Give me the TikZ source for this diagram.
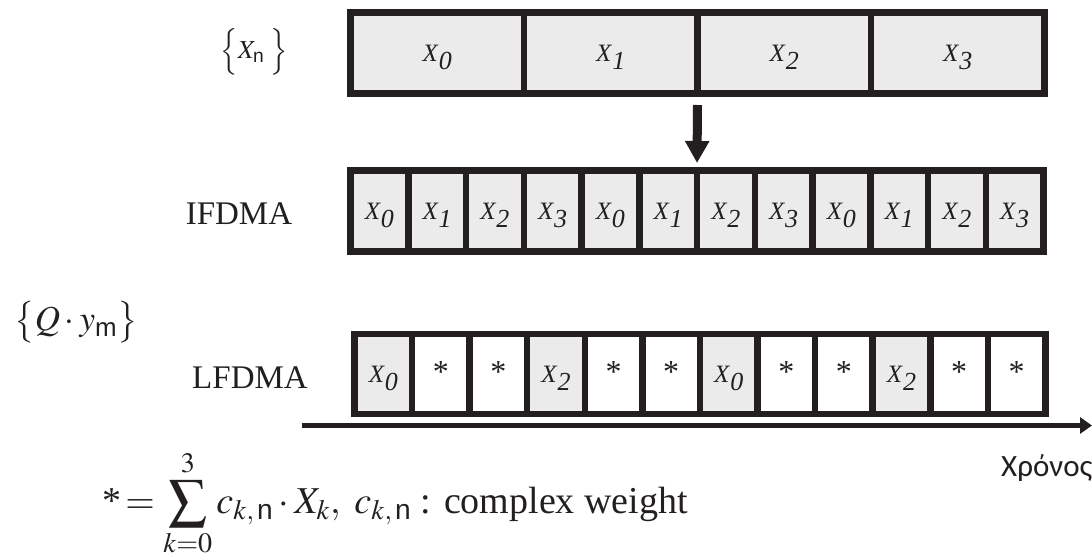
\documentclass[tikz,border=0pt]{standalone}
\usepackage{mathptmx}
\usepackage{amsmath}
\usepackage[no-math]{fontspec}
\setmainfont{Liberation Serif}
\newfontfamily\arialf{Liberation Sans}
\newfontfamily\greekf{Carlito}
\usetikzlibrary{arrows.meta}
\definecolor{dark}{HTML}{231F20}
\definecolor{cellgray}{HTML}{EBEBEB}
\newcommand{\xsub}[1]{\textit{X}\raisebox{-8pt}{\fontsize{26}{28}\selectfont\textit{#1}}}
\tikzset{
  cellbase/.style={draw=dark, line width=6.5pt, inner sep=0pt, outer sep=0pt,
    text height=16pt, text depth=0pt, font=\fontsize{25}{28}\selectfont, text=dark},
  topcell/.style={cellbase, fill=cellgray, minimum width=173.5pt, minimum height=81pt},
  icell/.style={cellbase, fill=cellgray, minimum width=57.75pt, minimum height=81pt},
  lgcell/.style={cellbase, fill=cellgray, minimum width=57.6pt, minimum height=80pt},
  lwcell/.style={cellbase, fill=white, minimum width=57.6pt, minimum height=80pt, font=\fontsize{32}{34}\selectfont},
  label/.style={text=dark, inner sep=0pt},
  bigarrow/.style={draw=dark, line width=9pt, -{Triangle[width=23pt,length=22pt]}},
  axisline/.style={draw=dark, line width=5pt, -{Triangle[width=16pt,length=12pt]}}
}
\begin{document}
\begin{tikzpicture}[x=1pt,y=-1pt]
\useasboundingbox (0,0) rectangle (1092,557);
% top row
\foreach \i in {0,1,2,3}{
  \node[topcell] (t\i) at ({350.5+173.5*(\i+0.5)},53) {\xsub{\i}};
}
% IFDMA row
\foreach \i in {0,...,11}{
  \pgfmathtruncatemacro{\v}{mod(\i,4)}
  \node[icell] (i\i) at ({350.5+57.75*(\i+0.5)},211) {\xsub{\v}};
}
% LFDMA row
\foreach \i/\st/\tx in {0/lgcell/{\xsub{0}},1/lwcell/*,2/lwcell/*,3/lgcell/{\xsub{2}},4/lwcell/*,5/lwcell/*,
                        6/lgcell/{\xsub{0}},7/lwcell/*,8/lwcell/*,9/lgcell/{\xsub{2}},10/lwcell/*,11/lwcell/*}{
  \node[\st] (l\i) at ({354.5+57.58*(\i+0.5)},374) {\tx};
}
% arrow between rows
\draw[bigarrow] ([yshift=-11.5pt]t1.south east) -- ([yshift=7.5pt]i5.north east);
% time axis
\coordinate (axs) at (302,425.5);
\coordinate (axe) at (1092,425.5);
\draw[axisline] (axs) -- (axe);
\node[label, anchor=base west, font=\greekf\fontsize{31}{33}\selectfont] (time) at (1001,476) {Χρόνος};
% left labels
\node[label, font=\fontsize{26}{28}\selectfont] (xn) at (254,52) {$\Big\{X_{\text{\arialf n}}\;\Big\}$};
\node[label, font=\fontsize{33}{36}\selectfont] (ifdma) at (239,214) {IFDMA};
\node[label, font=\fontsize{35}{38}\selectfont] (qy) at (76,322) {$\big\{Q\cdot y_{\text{\arialf m}}\big\}$};
\node[label, font=\fontsize{33}{36}\selectfont] (lfdma) at (250,378) {LFDMA};
% formula
\node[label, anchor=base east, font=\fontsize{38}{41}\selectfont] (formula) at (688,513)
  {*$\,=\displaystyle\sum_{k=0}^{3} c_{k,\,\text{\arialf n}}\cdot X_k,\ c_{k,\,\text{\arialf n}}$ : complex weight};
\end{tikzpicture}
\end{document}
